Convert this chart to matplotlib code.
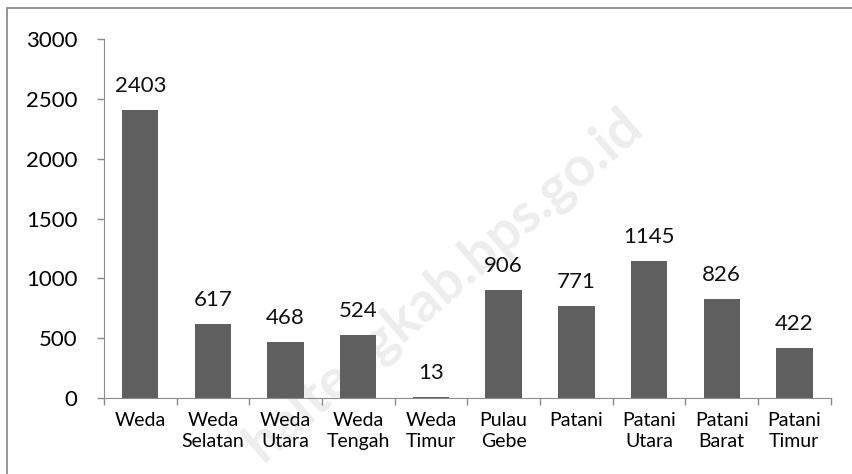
import matplotlib.pyplot as plt
import numpy as np
from matplotlib.patches import Rectangle

# data
kecamatan = ['Weda\n', 'Weda\nSelatan', 'Weda\nUtara', 'Weda\nTengah', 'Weda\nTimur',
             'Pulau\nGebe', 'Patani\n', 'Patani\nUtara', 'Patani\nBarat', 'Patani\nTimur']
jumlah = [2403, 617, 468, 524, 13, 906, 771, 1145, 826, 422]
y_ticks = [0, 500, 1000, 1500, 2000, 2500, 3000]

plt.rcParams['font.family'] = ['Lato', 'DejaVu Sans']

fig = plt.figure(figsize=(8.52, 4.74), dpi=100)

# watermark, behind everything
fig.text(0.52, 0.40, 'haltengkab.bps.go.id', rotation=41, fontsize=40,
         color='#ededed', ha='center', va='center', fontweight='bold', zorder=-5)

ax = fig.add_axes([0.122, 0.160, 0.853, 0.758])
ax.patch.set_alpha(0)

x = np.arange(len(kecamatan))
ax.bar(x, jumlah, width=0.5, color='#5f5f5f', zorder=2)

for xi, v in zip(x, jumlah):
    ax.annotate(str(v), (xi, v), xytext=(0, 13), textcoords='offset points',
                ha='center', va='baseline', fontsize=16, color='#111111')

ax.set_xlim(-0.5, len(kecamatan) - 0.5)
ax.set_ylim(0, 3000)
ax.set_yticks(y_ticks)
ax.set_yticklabels([str(t) for t in y_ticks], fontsize=16)

# category labels centred, ticks on category boundaries
ax.set_xticks(x)
ax.set_xticklabels(kecamatan, fontsize=14, linespacing=1.3)
ax.tick_params(axis='x', length=0, pad=10)
ax.set_xticks(np.arange(-0.5, len(kecamatan)), minor=True)
ax.tick_params(axis='x', which='minor', length=5, color='#8c8c8c', width=1)
ax.tick_params(axis='y', length=5, color='#8c8c8c', width=1, pad=14)

for side in ['top', 'right']:
    ax.spines[side].set_visible(False)
ax.spines['left'].set_color('#8c8c8c')
ax.spines['bottom'].set_color('#8c8c8c')

# chart border (top and left edges visible)
fig.patches.append(Rectangle((7 / 852, -0.1), 1.2, 1 - 8 / 474 + 0.1,
                             transform=fig.transFigure, fill=False,
                             edgecolor='#8c8c8c', linewidth=1.3))

fig.savefig('out.png', dpi=100)
